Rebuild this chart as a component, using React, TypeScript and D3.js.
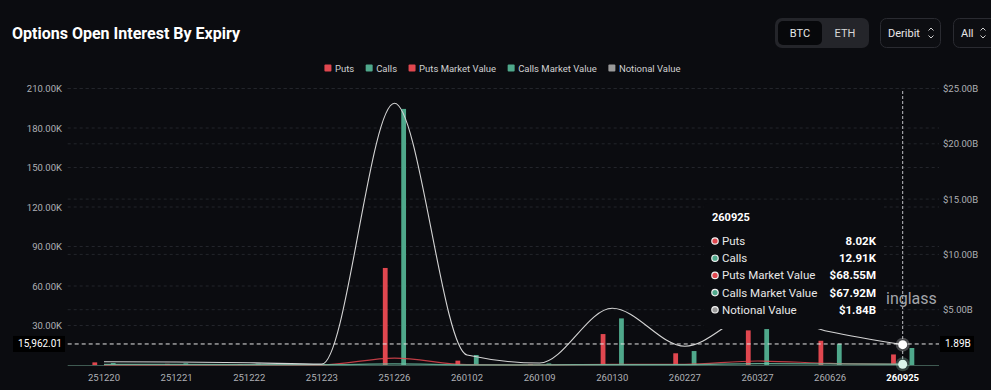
import React, { useRef, useEffect } from "react";
import * as d3 from "d3";

// expiry dates on the category axis
const expiries = [
  "251220", "251221", "251222", "251223", "251226", "260102",
  "260109", "260130", "260227", "260327", "260626", "260925",
];
// open interest, thousands of contracts (left axis)
const puts = [2.0, 0.9, 0.7, 0.4, 73.7, 3.3, 0.8, 23.5, 8.9, 26.3, 18.4, 8.02];
const calls = [1.5, 1.3, 1.0, 0.6, 194.5, 7.6, 1.2, 35.4, 10.6, 27.3, 16.1, 12.91];
// values in billions USD (right axis)
const putsMarketValue = [0.02, 0.01, 0.01, 0.01, 0.63, 0.03, 0.01, 0.05, 0.06, 0.36, 0.15, 0.06855];
const callsMarketValue = [0.06, 0.05, 0.04, 0.03, 0.1, 0.02, 0.01, 0.04, 0.03, 0.12, 0.1, 0.06792];
const notionalValue = [0.3, 0.27, 0.2, 0.08, 23.66, 0.9, 0.18, 5.13, 1.7, 4.71, 3.0, 1.84];

const leftTicks = [30, 60, 90, 120, 150, 180, 210];
const rightTicks = [5, 10, 15, 20, 25];
const legendItems = [
  { name: "Puts", color: "#e0474f" },
  { name: "Calls", color: "#4fa88b" },
  { name: "Puts Market Value", color: "#e0474f" },
  { name: "Calls Market Value", color: "#4fa88b" },
  { name: "Notional Value", color: "#9a9a9a" },
];

// hovered point + crosshair readout
const hoverIndex = 11;
const crossLeftValue = 15.96201; // K
const crossRightValue = 1.89; // B

const W = 991;
const H = 390;
const BG = "#0b0c10";
const RED = "#e0474f";
const GREEN = "#4fa88b";
const LINE_GREY = "#d4d4d4";
const FONT = "Roboto, 'DejaVu Sans', sans-serif";

const App = () => {
  const ref = useRef<SVGSVGElement>(null);

  useEffect(() => {
    if (!ref.current) return;
    const svg = d3.select(ref.current);
    svg.selectAll("*").remove();
    svg.attr("font-family", FONT);

    svg.append("rect").attr("width", W).attr("height", H).attr("fill", BG);

    const plot = { left: 67.7, right: 939, top: 88.5, bottom: 365 };

    const x = d3.scaleBand<string>().domain(expiries).range([plot.left, plot.right]);
    const cx = (d: string) => (x(d) as number) + x.bandwidth() / 2;
    const sub = d3
      .scaleBand<string>()
      .domain(["puts", "calls"])
      .range([-11.6, 11.6])
      .paddingInner(0.74);
    const yL = d3.scaleLinear().domain([0, 210]).range([plot.bottom, plot.top]);
    const yR = d3.scaleLinear().domain([0, 25]).range([plot.bottom, plot.top]);

    // header
    svg
      .append("text")
      .attr("x", 12)
      .attr("y", 39)
      .attr("font-size", 16)
      .attr("font-weight", 700)
      .attr("fill", "#ffffff")
      .attr("textLength", 228)
      .attr("lengthAdjust", "spacingAndGlyphs")
      .text("Options Open Interest By Expiry");

    // controls
    const ctrl = svg.append("g").attr("font-size", 11).attr("fill", "#e8e8e8");
    ctrl.append("rect").attr("x", 775).attr("y", 18).attr("width", 94).attr("height", 30)
      .attr("rx", 7).attr("fill", "#24252a");
    ctrl.append("rect").attr("x", 778).attr("y", 21).attr("width", 44).attr("height", 24)
      .attr("rx", 5).attr("fill", "#07080b");
    ctrl.append("text").attr("x", 800).attr("y", 37).attr("text-anchor", "middle").text("BTC");
    ctrl.append("text").attr("x", 845).attr("y", 37).attr("text-anchor", "middle").attr("fill", "#d8d8d8").text("ETH");

    const chevrons = (g: any, px: number) => {
      g.append("path")
        .attr("d", `M${px - 2.5},${30.5} L${px},${28} L${px + 2.5},${30.5} M${px - 2.5},${35.5} L${px},${38} L${px + 2.5},${35.5}`)
        .attr("fill", "none").attr("stroke", "#cfcfcf").attr("stroke-width", 1);
    };
    ctrl.append("rect").attr("x", 880.5).attr("y", 18.5).attr("width", 60).attr("height", 29)
      .attr("rx", 6).attr("fill", "#0d0e12").attr("stroke", "#2a2b31");
    ctrl.append("text").attr("x", 888).attr("y", 37).text("Deribit");
    chevrons(ctrl, 931);
    ctrl.append("rect").attr("x", 953.5).attr("y", 18.5).attr("width", 50).attr("height", 29)
      .attr("rx", 6).attr("fill", "#0d0e12").attr("stroke", "#2a2b31");
    ctrl.append("text").attr("x", 961).attr("y", 37).text("All");
    chevrons(ctrl, 983);

    // legend
    const legend = svg.append("g").attr("font-size", 9.5).attr("fill", "#d0d0d0");
    let lx = 0;
    legendItems.forEach((it) => {
      legend.append("rect").attr("x", lx).attr("y", 64.5).attr("width", 7).attr("height", 7)
        .attr("rx", 1).attr("fill", it.color);
      const t = legend.append("text").attr("x", lx + 10.5).attr("y", 71.5).text(it.name);
      const tw = (t.node() as SVGTextElement).getComputedTextLength();
      lx += 10.5 + tw + 11.5;
    });
    legend.attr("transform", `translate(${502.5 - (lx - 11.5) / 2},0)`);

    // grid
    const grid = svg.append("g").attr("stroke", "#23252b").attr("stroke-dasharray", "3,3");
    leftTicks.forEach((t) => {
      grid.append("line").attr("x1", plot.left).attr("x2", plot.right)
        .attr("y1", yL(t)).attr("y2", yL(t));
    });
    rightTicks.forEach((t) => {
      grid.append("line").attr("x1", plot.left).attr("x2", plot.right)
        .attr("y1", yR(t)).attr("y2", yR(t));
    });

    // axis labels
    const axisText = svg.append("g").attr("font-size", 9.5).attr("fill", "#aeb0b5");
    leftTicks.forEach((t) => {
      axisText.append("text").attr("x", 62).attr("y", yL(t) + 3.5).attr("text-anchor", "end")
        .text(`${d3.format(".2f")(t)}K`);
    });
    rightTicks.forEach((t) => {
      axisText.append("text").attr("x", 943).attr("y", yR(t) + 3.5)
        .text(`$${d3.format(".2f")(t)}B`);
    });
    expiries.forEach((d, i) => {
      axisText.append("text").attr("x", cx(d)).attr("y", 381).attr("text-anchor", "middle")
        .attr("fill", i === hoverIndex ? "#ffffff" : "#aeb0b5")
        .attr("font-weight", i === hoverIndex ? 700 : 400)
        .text(d);
    });

    svg.append("line").attr("x1", plot.left).attr("x2", plot.right)
      .attr("y1", plot.bottom + 0.5).attr("y2", plot.bottom + 0.5).attr("stroke", "#3f5a52");

    // bars
    const bars = svg.append("g");
    expiries.forEach((d, i) => {
      bars.append("rect")
        .attr("x", cx(d) + (sub("puts") as number))
        .attr("y", yL(puts[i]))
        .attr("width", sub.bandwidth())
        .attr("height", plot.bottom - yL(puts[i]))
        .attr("fill", RED);
      bars.append("rect")
        .attr("x", cx(d) + (sub("calls") as number))
        .attr("y", yL(calls[i]))
        .attr("width", sub.bandwidth())
        .attr("height", plot.bottom - yL(calls[i]))
        .attr("fill", GREEN);
    });

    // lines
    const line = d3
      .line<number>()
      .x((_, i) => cx(expiries[i]))
      .y((v) => yR(v))
      .curve(d3.curveMonotoneX);
    svg.append("path").attr("d", line(putsMarketValue)).attr("fill", "none")
      .attr("stroke", RED).attr("stroke-width", 1.2).attr("opacity", 0.85);
    svg.append("path").attr("d", line(callsMarketValue)).attr("fill", "none")
      .attr("stroke", "#6cbfa3").attr("stroke-width", 1.3).attr("opacity", 0.85);
    svg.append("path").attr("d", line(notionalValue)).attr("fill", "none")
      .attr("stroke", LINE_GREY).attr("stroke-width", 1.1);

    // crosshair
    const hx = cx(expiries[hoverIndex]);
    const hy = yL(crossLeftValue);
    svg.append("line").attr("x1", hx).attr("x2", hx).attr("y1", 91).attr("y2", plot.bottom)
      .attr("stroke", "#bfc0c4").attr("stroke-dasharray", "3,2").attr("stroke-width", 1);
    svg.append("line").attr("x1", plot.left).attr("x2", plot.right).attr("y1", hy).attr("y2", hy)
      .attr("stroke", "#e6e6e6").attr("stroke-dasharray", "4,3").attr("stroke-width", 1);

    // hover dots
    const ny = yR(notionalValue[hoverIndex]);
    svg.append("circle").attr("cx", hx).attr("cy", ny).attr("r", 7).attr("fill", "#ffffff").attr("opacity", 0.25);
    svg.append("circle").attr("cx", hx).attr("cy", ny).attr("r", 4.5).attr("fill", "#ffffff");
    const cy = yR(callsMarketValue[hoverIndex]);
    svg.append("circle").attr("cx", hx).attr("cy", cy).attr("r", 7).attr("fill", "#a6e3cf").attr("opacity", 0.25);
    svg.append("circle").attr("cx", hx).attr("cy", cy).attr("r", 4.5).attr("fill", "#d9f3ea");

    // watermark (partly covered by the tooltip; only the visible part is drawn)
    svg.append("text").attr("x", 886).attr("y", 304)
      .attr("font-size", 16).attr("fill", "#a3a5ab").text("inglass");

    // tooltip
    const tip = svg.append("g");
    tip.append("rect").attr("x", 704).attr("y", 203).attr("width", 180).attr("height", 126)
      .attr("rx", 4).attr("fill", BG);
    tip.append("text").attr("x", 712).attr("y", 221).attr("font-size", 11).attr("font-weight", 700)
      .attr("fill", "#ffffff").text(expiries[hoverIndex]);
    const fmtK = (v: number) => `${d3.format(".2f")(v)}K`;
    const fmtM = (v: number) => `$${d3.format(".2f")(v * 1000)}M`;
    const fmtB = (v: number) => `$${d3.format(".2f")(v)}B`;
    const rows = [
      { name: "Puts", color: RED, value: fmtK(puts[hoverIndex]) },
      { name: "Calls", color: GREEN, value: fmtK(calls[hoverIndex]) },
      { name: "Puts Market Value", color: RED, value: fmtM(putsMarketValue[hoverIndex]) },
      { name: "Calls Market Value", color: GREEN, value: fmtM(callsMarketValue[hoverIndex]) },
      { name: "Notional Value", color: "#9a9a9a", value: fmtB(notionalValue[hoverIndex]) },
    ];
    rows.forEach((r, i) => {
      const ry = 241 + i * 17.2;
      tip.append("circle").attr("cx", 715).attr("cy", ry).attr("r", 3.2)
        .attr("fill", r.color).attr("stroke", "#f0f0f0").attr("stroke-width", 1.2);
      tip.append("text").attr("x", 722).attr("y", ry + 4).attr("font-size", 11.5)
        .attr("fill", "#e8e8e8").text(r.name);
      tip.append("text").attr("x", 876).attr("y", ry + 4).attr("font-size", 11.5)
        .attr("font-weight", 700).attr("text-anchor", "end").attr("fill", "#ffffff").text(r.value);
    });

    // crosshair readouts
    const lbl = svg.append("g").attr("font-size", 10).attr("fill", "#ffffff");
    lbl.append("rect").attr("x", 13).attr("y", hy - 8).attr("width", 52).attr("height", 16).attr("fill", "#000000");
    lbl.append("text").attr("x", 62).attr("y", hy + 3.5).attr("text-anchor", "end")
      .text(d3.format(",.2f")(crossLeftValue * 1000));
    lbl.append("rect").attr("x", 940).attr("y", hy - 8).attr("width", 34).attr("height", 16).attr("fill", "#000000");
    lbl.append("text").attr("x", 945).attr("y", hy + 3.5).text(`${d3.format(".2f")(crossRightValue)}B`);
  }, []);

  return (
    <svg
      ref={ref}
      width={W}
      height={H}
      style={{ position: "absolute", left: 0, top: 0, display: "block" }}
    />
  );
};

export default App;
